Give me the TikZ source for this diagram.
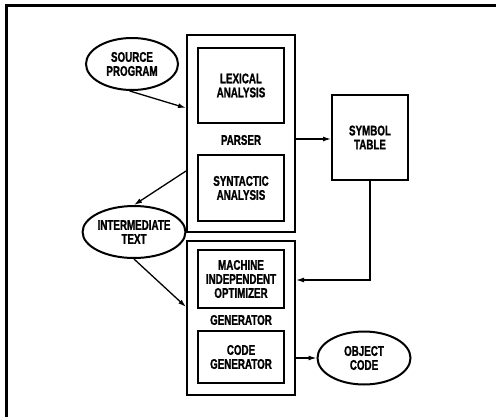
\documentclass[tikz,border=0pt]{standalone}
\usepackage{fontspec}
\setmainfont{Liberation Sans}[FakeStretch=0.7,BoldFeatures={FakeBold=1.2}]
\usetikzlibrary{shapes.geometric,arrows.meta}
\begin{document}
\begin{tikzpicture}[x=1pt,y=-1pt,
  lbl/.style={font=\fontsize{14}{14}\selectfont\bfseries, align=center, inner sep=0pt},
  box/.style={draw, line width=2pt, rectangle, inner sep=0pt, lbl},
  oval/.style={draw, line width=2pt, ellipse, inner sep=0pt, lbl},
  arr/.style={line width=1.3pt, -{Latex[length=8pt,width=5pt]}}]
\useasboundingbox (0,0) rectangle (496,416);
\draw[line width=3pt] (6,420) -- (6,5.5) -- (500,5.5);
% parser
\node[box, minimum width=108pt, minimum height=197pt] (parser) at (241,133.5) {};
\node[box, minimum width=86pt, minimum height=75pt] (lex) at (241,85.5) {LEXICAL\\ANALYSIS};
\node[box, minimum width=86pt, minimum height=66pt] (syn) at (241,188) {SYNTACTIC\\ANALYSIS};
\node[lbl] (plabel) at (241,140) {PARSER};
% generator
\node[box, minimum width=108pt, minimum height=154pt] (gen) at (241,318) {};
\node[box, minimum width=86pt, minimum height=58pt] (opt) at (241,279) {MACHINE\\INDEPENDENT\\OPTIMIZER};
\node[box, minimum width=86pt, minimum height=52pt] (cg) at (241,357) {CODE\\GENERATOR};
\node[lbl] (glabel) at (241,320) {GENERATOR};
% symbol table
\node[box, minimum width=76pt, minimum height=85pt] (sym) at (370,137.5) {SYMBOL\\TABLE};
% ellipses
\node[oval, minimum width=92pt, minimum height=52pt] (src) at (132,64) {SOURCE\\PROGRAM};
\node[oval, minimum width=93pt, minimum height=52pt] (inter) at (134,232) {INTERMEDIATE\\TEXT};
\node[oval, minimum width=93pt, minimum height=53pt] (obj) at (364,358) {OBJECT\\CODE};
% connectors
\draw[arr] (src.265) -- (parser.west |- 0,108);
\draw[arr] (parser.east |- 0,139) -- (sym.west |- 0,139);
\draw[arr] (parser.west |- 0,171) -- (inter.north);
\draw[arr] (inter.south) -- (gen.west |- 0,307);
\draw[arr] (sym.south) |- (gen.east |- 0,280);
\draw[arr] (gen.east |- obj.west) -- (obj.west);
\end{tikzpicture}
\end{document}
